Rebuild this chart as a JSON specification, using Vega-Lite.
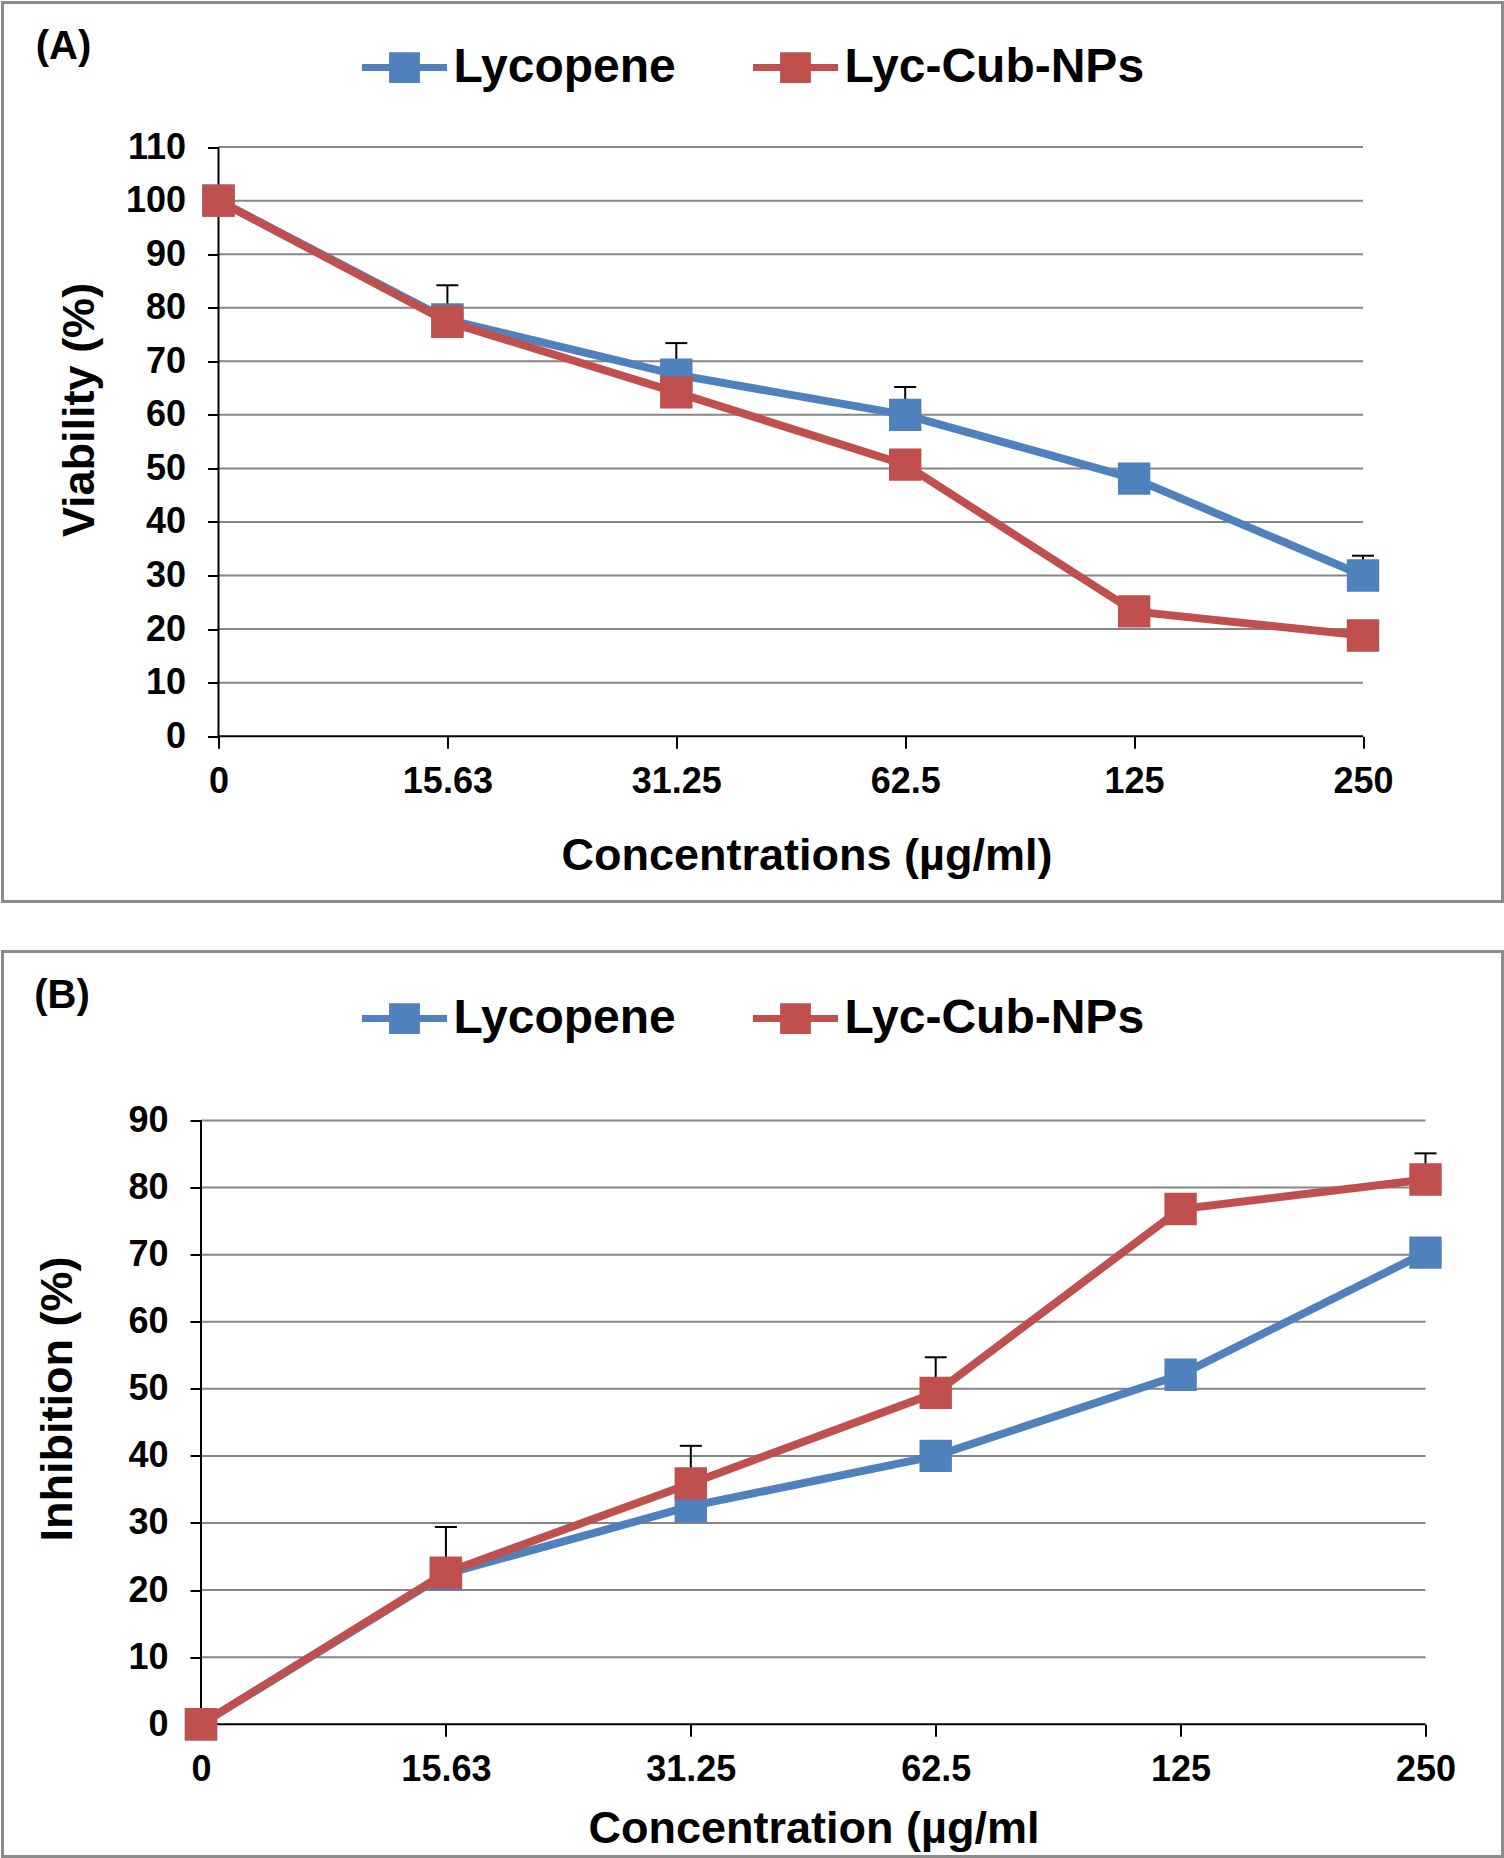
{
  "$schema": "https://vega.github.io/schema/vega-lite/v6.json",
  "background": "white",
  "padding": {"left": 0.5, "top": 0.5, "right": 0, "bottom": 0},
  "autosize": {"type": "pad"},
  "spacing": 46,
  "resolve": {"scale": {"color": "independent"}, "legend": {"color": "independent"}},
  "config": {
    "view": {"stroke": "#8c8c8c", "strokeWidth": 3},
    "font": "Liberation Sans",
    "axis": {
      "domain": false, "grid": false,
      "tickColor": "black", "tickWidth": 2,
      "labelFont": "Liberation Sans", "labelFontWeight": "bold", "labelFontSize": 36, "labelColor": "black",
      "titleFont": "Liberation Sans", "titleFontWeight": "bold", "titleFontSize": 45, "titleColor": "black",
      "titleBaseline": "middle", "titleAlign": "center"
    },
    "legend": {
      "labelFont": "Liberation Sans", "labelFontWeight": "bold", "labelFontSize": 48, "labelColor": "black",
      "labelLimit": 1000, "padding": 0
    }
  },
  "datasets": {
    "viab": [
      {"conc": "0", "series": "Lycopene", "value": 100},
      {"conc": "15.63", "series": "Lycopene", "value": 77.8, "upper": 84.2},
      {"conc": "31.25", "series": "Lycopene", "value": 67.5, "upper": 73.4},
      {"conc": "62.5", "series": "Lycopene", "value": 60.0, "upper": 65.2},
      {"conc": "125", "series": "Lycopene", "value": 48.1},
      {"conc": "250", "series": "Lycopene", "value": 30.0, "upper": 33.7},
      {"conc": "0", "series": "Lyc-Cub-NPs", "value": 100},
      {"conc": "15.63", "series": "Lyc-Cub-NPs", "value": 77.4},
      {"conc": "31.25", "series": "Lyc-Cub-NPs", "value": 64.2},
      {"conc": "62.5", "series": "Lyc-Cub-NPs", "value": 50.7},
      {"conc": "125", "series": "Lyc-Cub-NPs", "value": 23.3},
      {"conc": "250", "series": "Lyc-Cub-NPs", "value": 18.8}
    ],
    "inhib": [
      {"conc": "0", "series": "Lycopene", "value": 0},
      {"conc": "15.63", "series": "Lycopene", "value": 22.4},
      {"conc": "31.25", "series": "Lycopene", "value": 32.5},
      {"conc": "62.5", "series": "Lycopene", "value": 40.0},
      {"conc": "125", "series": "Lycopene", "value": 52.1},
      {"conc": "250", "series": "Lycopene", "value": 70.3},
      {"conc": "0", "series": "Lyc-Cub-NPs", "value": 0},
      {"conc": "15.63", "series": "Lyc-Cub-NPs", "value": 22.6, "upper": 29.4},
      {"conc": "31.25", "series": "Lyc-Cub-NPs", "value": 35.9, "upper": 41.5},
      {"conc": "62.5", "series": "Lyc-Cub-NPs", "value": 49.4, "upper": 54.7},
      {"conc": "125", "series": "Lyc-Cub-NPs", "value": 76.8},
      {"conc": "250", "series": "Lyc-Cub-NPs", "value": 81.2, "upper": 85.1}
    ],
    "gridA": [{"g": 10}, {"g": 20}, {"g": 30}, {"g": 40}, {"g": 50}, {"g": 60}, {"g": 70}, {"g": 80}, {"g": 90}, {"g": 100}, {"g": 110}],
    "gridB": [{"g": 10}, {"g": 20}, {"g": 30}, {"g": 40}, {"g": 50}, {"g": 60}, {"g": 70}, {"g": 80}, {"g": 90}],
    "one": [{"k": 1}],
    "labA": [{"label": "(A)"}],
    "labB": [{"label": "(B)"}]
  },
  "vconcat": [
    {
      "width": 1500,
      "height": 899,
      "layer": [
        {
          "data": {"name": "gridA"},
          "mark": {"type": "rule", "color": "#868686", "strokeWidth": 2},
          "encoding": {
            "y": {"field": "g", "type": "quantitative", "scale": {"domain": [-30.87, 137.0], "nice": false, "zero": false}},
            "x": {"datum": "0", "type": "ordinal", "scale": {"type": "point", "domain": ["0", "15.63", "31.25", "62.5", "125", "250"], "padding": 0.7765, "align": 0.6076}},
            "x2": {"datum": "250"}
          }
        },
        {
          "data": {"name": "one"},
          "mark": {"type": "rule", "color": "black", "strokeWidth": 2},
          "encoding": {
            "y": {"datum": 0, "type": "quantitative", "scale": {"domain": [-30.87, 137.0], "nice": false, "zero": false}},
            "x": {"datum": "0", "type": "ordinal", "scale": {"type": "point", "domain": ["0", "15.63", "31.25", "62.5", "125", "250"], "padding": 0.7765, "align": 0.6076}},
            "x2": {"datum": "250"}
          }
        },
        {
          "data": {"name": "one"},
          "mark": {"type": "rule", "color": "black", "strokeWidth": 2},
          "encoding": {
            "x": {"datum": "0", "type": "ordinal", "scale": {"type": "point", "domain": ["0", "15.63", "31.25", "62.5", "125", "250"], "padding": 0.7765, "align": 0.6076}},
            "y": {"datum": 0, "type": "quantitative", "scale": {"domain": [-30.87, 137.0], "nice": false, "zero": false}},
            "y2": {"datum": 110}
          }
        },
        {
          "data": {"name": "labA"},
          "mark": {"type": "text", "dx": -155, "align": "center", "baseline": "middle", "font": "Liberation Sans", "fontWeight": "bold", "fontSize": 40, "color": "black"},
          "encoding": {
            "x": {"datum": "0", "type": "ordinal", "scale": {"type": "point", "domain": ["0", "15.63", "31.25", "62.5", "125", "250"], "padding": 0.7765, "align": 0.6076}},
            "y": {"datum": 128.6, "type": "quantitative", "scale": {"domain": [-30.87, 137.0], "nice": false, "zero": false}},
            "text": {"field": "label"}
          }
        },
        {
          "data": {"name": "viab"},
          "transform": [{"filter": "isValid(datum.upper)"}],
          "mark": {"type": "rule", "color": "black", "strokeWidth": 2},
          "encoding": {
            "x": {"field": "conc", "type": "ordinal", "scale": {"type": "point", "domain": ["0", "15.63", "31.25", "62.5", "125", "250"], "padding": 0.7765, "align": 0.6076}},
            "y": {"field": "value", "type": "quantitative", "scale": {"domain": [-30.87, 137.0], "nice": false, "zero": false}},
            "y2": {"field": "upper"}
          }
        },
        {
          "data": {"name": "viab"},
          "transform": [{"filter": "isValid(datum.upper)"}],
          "mark": {"type": "tick", "color": "black", "thickness": 2, "size": 22, "orient": "horizontal", "opacity": 1},
          "encoding": {
            "x": {"field": "conc", "type": "ordinal", "scale": {"type": "point", "domain": ["0", "15.63", "31.25", "62.5", "125", "250"], "padding": 0.7765, "align": 0.6076}},
            "y": {"field": "upper", "type": "quantitative", "scale": {"domain": [-30.87, 137.0], "nice": false, "zero": false}}
          }
        },
        {
          "data": {"name": "viab"},
          "transform": [{"filter": "datum.series === 'Lycopene'"}],
          "mark": {"type": "line", "strokeWidth": 8},
          "encoding": {
            "x": {"field": "conc", "type": "ordinal", "sort": null, "scale": {"type": "point", "domain": ["0", "15.63", "31.25", "62.5", "125", "250"], "padding": 0.7765, "align": 0.6076}},
            "y": {"field": "value", "type": "quantitative", "scale": {"domain": [-30.87, 137.0], "nice": false, "zero": false}},
            "color": {"field": "series", "type": "nominal", "scale": {"domain": ["Lycopene", "Lyc-Cub-NPs"], "range": ["#4F81BD", "#C0504D"]}}
          }
        },
        {
          "data": {"name": "viab"},
          "transform": [{"filter": "datum.series === 'Lycopene'"}],
          "mark": {"type": "point", "shape": "square", "filled": true, "size": 1050, "opacity": 1},
          "encoding": {
            "x": {"field": "conc", "type": "ordinal", "scale": {"type": "point", "domain": ["0", "15.63", "31.25", "62.5", "125", "250"], "padding": 0.7765, "align": 0.6076}},
            "y": {"field": "value", "type": "quantitative", "scale": {"domain": [-30.87, 137.0], "nice": false, "zero": false}},
            "color": {"field": "series", "type": "nominal", "scale": {"domain": ["Lycopene", "Lyc-Cub-NPs"], "range": ["#4F81BD", "#C0504D"]}}
          }
        },
        {
          "data": {"name": "viab"},
          "transform": [{"filter": "datum.series === 'Lyc-Cub-NPs'"}],
          "mark": {"type": "line", "strokeWidth": 8},
          "encoding": {
            "x": {"field": "conc", "type": "ordinal", "sort": null, "scale": {"type": "point", "domain": ["0", "15.63", "31.25", "62.5", "125", "250"], "padding": 0.7765, "align": 0.6076}},
            "y": {"field": "value", "type": "quantitative", "scale": {"domain": [-30.87, 137.0], "nice": false, "zero": false}},
            "color": {"field": "series", "type": "nominal", "scale": {"domain": ["Lycopene", "Lyc-Cub-NPs"], "range": ["#4F81BD", "#C0504D"]}}
          }
        },
        {
          "data": {"name": "viab"},
          "transform": [{"filter": "datum.series === 'Lyc-Cub-NPs'"}],
          "mark": {"type": "point", "shape": "square", "filled": true, "size": 1050, "opacity": 1},
          "encoding": {
            "x": {"field": "conc", "type": "ordinal", "scale": {"type": "point", "domain": ["0", "15.63", "31.25", "62.5", "125", "250"], "padding": 0.7765, "align": 0.6076},
              "axis": {"offset": -165.3, "tickSize": 12, "labelPadding": 33, "labelAngle": 0, "labelAlign": "center", "title": "Concentrations (µg/ml)", "titleX": 804, "titleY": 119}},
            "y": {"field": "value", "type": "quantitative", "scale": {"domain": [-30.87, 137.0], "nice": false, "zero": false},
              "axis": {"values": [0, 10, 20, 30, 40, 50, 60, 70, 80, 90, 100, 110], "offset": -216, "tickSize": 11, "labelPadding": 22, "title": "Viability (%)", "titleX": -139, "titleY": 407}},
            "color": {"field": "series", "type": "nominal", "scale": {"domain": ["Lycopene", "Lyc-Cub-NPs"], "range": ["#4F81BD", "#C0504D"]},
              "legend": {"title": null, "orient": "none", "legendX": 356, "legendY": 19, "direction": "horizontal",
                "symbolType": "M-1,0L1,0M-0.28,-0.28L0.28,-0.28L0.28,0.28L-0.28,0.28Z", "symbolSize": 7225, "symbolStrokeWidth": 7,
                "labelOffset": 3, "columnPadding": 62}}
          }
        }
      ]
    },
    {
      "width": 1500,
      "height": 905,
      "layer": [
        {
          "data": {"name": "gridB"},
          "mark": {"type": "rule", "color": "#868686", "strokeWidth": 2},
          "encoding": {
            "y": {"field": "g", "type": "quantitative", "scale": {"domain": [-19.72, 115.19], "nice": false, "zero": false}},
            "x": {"datum": "0", "type": "ordinal", "scale": {"type": "point", "domain": ["0", "15.63", "31.25", "62.5", "125", "250"], "padding": 0.5625, "align": 0.7205}},
            "x2": {"datum": "250"}
          }
        },
        {
          "data": {"name": "one"},
          "mark": {"type": "rule", "color": "black", "strokeWidth": 2},
          "encoding": {
            "y": {"datum": 0, "type": "quantitative", "scale": {"domain": [-19.72, 115.19], "nice": false, "zero": false}},
            "x": {"datum": "0", "type": "ordinal", "scale": {"type": "point", "domain": ["0", "15.63", "31.25", "62.5", "125", "250"], "padding": 0.5625, "align": 0.7205}},
            "x2": {"datum": "250"}
          }
        },
        {
          "data": {"name": "one"},
          "mark": {"type": "rule", "color": "black", "strokeWidth": 2},
          "encoding": {
            "x": {"datum": "0", "type": "ordinal", "scale": {"type": "point", "domain": ["0", "15.63", "31.25", "62.5", "125", "250"], "padding": 0.5625, "align": 0.7205}},
            "y": {"datum": 0, "type": "quantitative", "scale": {"domain": [-19.72, 115.19], "nice": false, "zero": false}},
            "y2": {"datum": 90}
          }
        },
        {
          "data": {"name": "labB"},
          "mark": {"type": "text", "dx": -139, "align": "center", "baseline": "middle", "font": "Liberation Sans", "fontWeight": "bold", "fontSize": 40, "color": "black"},
          "encoding": {
            "x": {"datum": "0", "type": "ordinal", "scale": {"type": "point", "domain": ["0", "15.63", "31.25", "62.5", "125", "250"], "padding": 0.5625, "align": 0.7205}},
            "y": {"datum": 108.5, "type": "quantitative", "scale": {"domain": [-19.72, 115.19], "nice": false, "zero": false}},
            "text": {"field": "label"}
          }
        },
        {
          "data": {"name": "inhib"},
          "transform": [{"filter": "isValid(datum.upper)"}],
          "mark": {"type": "rule", "color": "black", "strokeWidth": 2},
          "encoding": {
            "x": {"field": "conc", "type": "ordinal", "scale": {"type": "point", "domain": ["0", "15.63", "31.25", "62.5", "125", "250"], "padding": 0.5625, "align": 0.7205}},
            "y": {"field": "value", "type": "quantitative", "scale": {"domain": [-19.72, 115.19], "nice": false, "zero": false}},
            "y2": {"field": "upper"}
          }
        },
        {
          "data": {"name": "inhib"},
          "transform": [{"filter": "isValid(datum.upper)"}],
          "mark": {"type": "tick", "color": "black", "thickness": 2, "size": 22, "orient": "horizontal", "opacity": 1},
          "encoding": {
            "x": {"field": "conc", "type": "ordinal", "scale": {"type": "point", "domain": ["0", "15.63", "31.25", "62.5", "125", "250"], "padding": 0.5625, "align": 0.7205}},
            "y": {"field": "upper", "type": "quantitative", "scale": {"domain": [-19.72, 115.19], "nice": false, "zero": false}}
          }
        },
        {
          "data": {"name": "inhib"},
          "transform": [{"filter": "datum.series === 'Lycopene'"}],
          "mark": {"type": "line", "strokeWidth": 8},
          "encoding": {
            "x": {"field": "conc", "type": "ordinal", "sort": null, "scale": {"type": "point", "domain": ["0", "15.63", "31.25", "62.5", "125", "250"], "padding": 0.5625, "align": 0.7205}},
            "y": {"field": "value", "type": "quantitative", "scale": {"domain": [-19.72, 115.19], "nice": false, "zero": false}},
            "color": {"field": "series", "type": "nominal", "scale": {"domain": ["Lycopene", "Lyc-Cub-NPs"], "range": ["#4F81BD", "#C0504D"]}}
          }
        },
        {
          "data": {"name": "inhib"},
          "transform": [{"filter": "datum.series === 'Lycopene'"}],
          "mark": {"type": "point", "shape": "square", "filled": true, "size": 1050, "opacity": 1},
          "encoding": {
            "x": {"field": "conc", "type": "ordinal", "scale": {"type": "point", "domain": ["0", "15.63", "31.25", "62.5", "125", "250"], "padding": 0.5625, "align": 0.7205}},
            "y": {"field": "value", "type": "quantitative", "scale": {"domain": [-19.72, 115.19], "nice": false, "zero": false}},
            "color": {"field": "series", "type": "nominal", "scale": {"domain": ["Lycopene", "Lyc-Cub-NPs"], "range": ["#4F81BD", "#C0504D"]}}
          }
        },
        {
          "data": {"name": "inhib"},
          "transform": [{"filter": "datum.series === 'Lyc-Cub-NPs'"}],
          "mark": {"type": "line", "strokeWidth": 8},
          "encoding": {
            "x": {"field": "conc", "type": "ordinal", "sort": null, "scale": {"type": "point", "domain": ["0", "15.63", "31.25", "62.5", "125", "250"], "padding": 0.5625, "align": 0.7205}},
            "y": {"field": "value", "type": "quantitative", "scale": {"domain": [-19.72, 115.19], "nice": false, "zero": false}},
            "color": {"field": "series", "type": "nominal", "scale": {"domain": ["Lycopene", "Lyc-Cub-NPs"], "range": ["#4F81BD", "#C0504D"]}}
          }
        },
        {
          "data": {"name": "inhib"},
          "transform": [{"filter": "datum.series === 'Lyc-Cub-NPs'"}],
          "mark": {"type": "point", "shape": "square", "filled": true, "size": 1050, "opacity": 1},
          "encoding": {
            "x": {"field": "conc", "type": "ordinal", "scale": {"type": "point", "domain": ["0", "15.63", "31.25", "62.5", "125", "250"], "padding": 0.5625, "align": 0.7205},
              "axis": {"offset": -132.3, "tickSize": 12, "labelPadding": 33, "labelAngle": 0, "labelAlign": "center", "title": "Concentration (µg/ml", "titleX": 811, "titleY": 104}},
            "y": {"field": "value", "type": "quantitative", "scale": {"domain": [-19.72, 115.19], "nice": false, "zero": false},
              "axis": {"values": [0, 10, 20, 30, 40, 50, 60, 70, 80, 90], "offset": -198.5, "tickSize": 11, "labelPadding": 22, "title": "Inhibition (%)", "titleX": -144, "titleY": 447}},
            "color": {"field": "series", "type": "nominal", "scale": {"domain": ["Lycopene", "Lyc-Cub-NPs"], "range": ["#4F81BD", "#C0504D"]},
              "legend": {"title": null, "orient": "none", "legendX": 356, "legendY": 21, "direction": "horizontal",
                "symbolType": "M-1,0L1,0M-0.28,-0.28L0.28,-0.28L0.28,0.28L-0.28,0.28Z", "symbolSize": 7225, "symbolStrokeWidth": 7,
                "labelOffset": 3, "columnPadding": 62}}
          }
        }
      ]
    }
  ]
}
